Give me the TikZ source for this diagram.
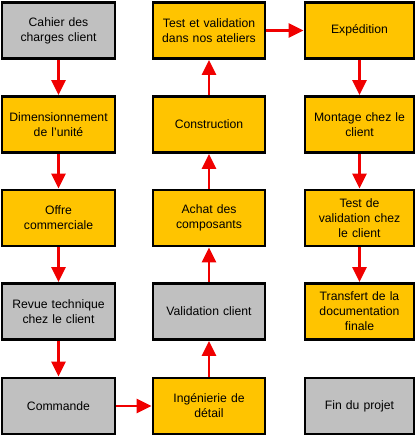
\documentclass[tikz,border=0pt]{standalone}
\usepackage{fontspec}
\setmainfont{Liberation Sans}
\usetikzlibrary{arrows.meta}
\definecolor{boxgray}{RGB}{192,192,192}
\definecolor{boxgold}{RGB}{255,196,0}
\definecolor{arrred}{RGB}{240,0,0}
\begin{document}
\begin{tikzpicture}[x=1pt,y=1pt,
  box/.style={draw=black, line width=2.8pt, minimum height=56pt, align=center,
    inner sep=2pt, font=\fontsize{12.2}{15}\selectfont},
  graybox/.style={box, fill=boxgray},
  goldbox/.style={box, fill=boxgold},
  w1/.style={minimum width=113pt, text width=109pt},
  w2/.style={minimum width=112pt, text width=108pt},
  w3/.style={minimum width=109pt, text width=105pt},
  flow/.style={draw=arrred, line width=2.8pt, -{Triangle[length=15pt,width=14pt]}}]
\useasboundingbox (0,0) rectangle (417,438);
% column 1
\node[graybox,w1] (a1) at (58.5,407.5) {Cahier des\\charges client};
\node[goldbox,w1] (a2) at (58.5,313.5) {Dimensionnement\\de l'unité};
\node[goldbox,w1] (a3) at (58.5,220) {Offre\\commerciale};
\node[graybox,w1] (a4) at (58.5,126.5) {Revue technique\\chez le client};
\node[graybox,w1] (a5) at (58.5,32) {Commande};
% column 2
\node[goldbox,w2] (b1) at (209,407.5) {Test et validation\\dans nos ateliers};
\node[goldbox,w2] (b2) at (209,313.5) {Construction};
\node[goldbox,w2] (b3) at (209,220) {Achat des\\composants};
\node[graybox,w2] (b4) at (209,126.5) {Validation client};
\node[goldbox,w2] (b5) at (209,32) {Ingénierie de\\détail};
% column 3
\node[goldbox,w3] (c1) at (359.5,407.5) {Expédition};
\node[goldbox,w3] (c2) at (359.5,313.5) {Montage chez le\\client};
\node[goldbox,w3] (c3) at (359.5,220) {Test de\\validation chez\\le client};
\node[goldbox,w3] (c4) at (359.5,126.5) {Transfert de la\\documentation\\finale};
\node[graybox,w3] (c5) at (359.5,32) {Fin du projet};
% connectors
\draw[flow] (a1) -- (a2);
\draw[flow] (a2) -- (a3);
\draw[flow] (a3) -- (a4);
\draw[flow] (a4) -- (a5);
\draw[flow] (a5) -- (b5);
\draw[flow] (b5) -- (b4);
\draw[flow] (b4) -- (b3);
\draw[flow] (b3) -- (b2);
\draw[flow] (b2) -- (b1);
\draw[flow] (b1) -- (c1);
\draw[flow] (c1) -- (c2);
\draw[flow] (c2) -- (c3);
\draw[flow] (c3) -- (c4);
\end{tikzpicture}
\end{document}
